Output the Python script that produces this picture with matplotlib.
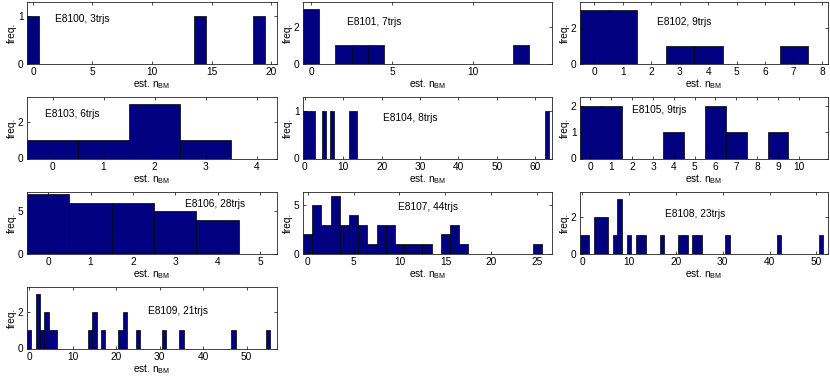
import numpy as np
import matplotlib
matplotlib.use("Agg")
from matplotlib import pyplot as plt

plt.rcParams['font.family'] = ['Liberation Sans', 'DejaVu Sans']
plt.rcParams['font.size'] = 7.3

# experiment names and number of trajectories
exps = ['E8100', 'E8101', 'E8102', 'E8103', 'E8104',
        'E8105', 'E8106', 'E8107', 'E8108', 'E8109']
ntrjs = [3, 7, 9, 6, 8, 9, 28, 44, 23, 21]

# estimated n_BM (bin centre) and frequency per experiment
n_8100 = [0, 14, 19]
f_8100 = [1, 1, 1]
n_8101 = [0, 2, 3, 4, 13]
f_8101 = [3, 1, 1, 1, 1]
n_8102 = [0, 1, 3, 4, 7]
f_8102 = [3, 3, 1, 1, 1]
n_8103 = [0, 1, 2, 3]
f_8103 = [1, 1, 3, 1]
n_8104 = [0, 1, 2, 5, 7, 12, 13, 63]
f_8104 = [1, 1, 1, 1, 1, 1, 1, 1]
n_8105 = [0, 1, 4, 6, 7, 9]
f_8105 = [2, 2, 1, 2, 1, 1]
n_8106 = [0, 1, 2, 3, 4]
f_8106 = [7, 6, 6, 5, 4]
n_8107 = [0, 1, 2, 3, 4, 5, 6, 7, 8, 9, 10, 11, 12, 13, 15, 16, 17, 25]
f_8107 = [2, 5, 3, 6, 3, 4, 3, 1, 3, 3, 1, 1, 1, 1, 2, 3, 1, 1]
n_8108 = [0, 1, 3, 4, 5, 7, 8, 10, 12, 13, 17, 21, 22, 24, 25, 31, 42, 51]
f_8108 = [1, 1, 2, 2, 2, 1, 3, 1, 1, 1, 1, 1, 1, 1, 1, 1, 1, 1]
n_8109 = [0, 2, 3, 4, 5, 6, 14, 15, 17, 21, 22, 25, 31, 35, 47, 55]
f_8109 = [1, 3, 1, 2, 1, 1, 1, 2, 1, 1, 2, 1, 1, 1, 1, 1]

nvals = [n_8100, n_8101, n_8102, n_8103, n_8104,
         n_8105, n_8106, n_8107, n_8108, n_8109]
freqs = [f_8100, f_8101, f_8102, f_8103, f_8104,
         f_8105, f_8106, f_8107, f_8108, f_8109]

# axis settings per panel
xmax = [20.5, 14.9, 8.2, 4.4, 64.4, 11.4, 5.4, 26.6, 52.5, 57.0]
ymax = [1.3, 3.4, 3.45, 3.4, 1.3, 2.35, 7.25, 6.4, 3.4, 3.4]
xticks = [np.arange(0, 21, 5), np.arange(0, 11, 5), np.arange(0, 9),
          np.arange(0, 5), np.arange(0, 61, 10), np.arange(0, 11),
          np.arange(0, 6), np.arange(0, 26, 5), np.arange(0, 51, 10),
          np.arange(0, 51, 10)]
yticks = [[0, 1], [0, 2], [0, 2], [0, 2], [0, 1],
          [0, 1, 2], [0, 5], [0, 5], [0, 2], [0, 2]]
# text position (axes fraction)
txt_pos = [(0.11, 0.73), (0.175, 0.68), (0.31, 0.67), (0.072, 0.73),
           (0.322, 0.66), (0.208, 0.79), (0.632, 0.81), (0.383, 0.76),
           (0.343, 0.65), (0.485, 0.61)]

W, H = 830, 383
col_left = [27, 303, 580]
col_w = [250, 249, 248]
row_top = [2, 97, 192, 287]
row_h = 61.5

fig = plt.figure(figsize=(W / 100, H / 100), dpi=100)

for i in range(10):
    r, c = i // 3, i % 3
    ax = fig.add_axes([col_left[c] / W, 1 - (row_top[r] + row_h) / H,
                       col_w[c] / W, row_h / H])
    ax.bar(nvals[i], freqs[i], width=1.0, color='#000080',
           edgecolor='black', linewidth=0.5)
    ax.set_xlim(-0.5, xmax[i])
    ax.set_ylim(0, ymax[i])
    ax.set_xticks(xticks[i])
    ax.set_yticks(yticks[i])
    ax.tick_params(direction='in', top=True, right=True, length=2.5,
                   width=0.5, pad=2.5, labelsize=7.3)
    for s in ax.spines.values():
        s.set_linewidth(0.6)
        s.set_color('#222222')
    ax.set_xlabel(r'est. n$_\mathregular{BM}$', labelpad=0.5)
    ax.set_ylabel('freq.', labelpad=1)
    ax.text(txt_pos[i][0], txt_pos[i][1], '%s, %dtrjs' % (exps[i], ntrjs[i]),
            transform=ax.transAxes, ha='left', va='center', fontsize=7.3)

fig.savefig('out.png', dpi=100)
